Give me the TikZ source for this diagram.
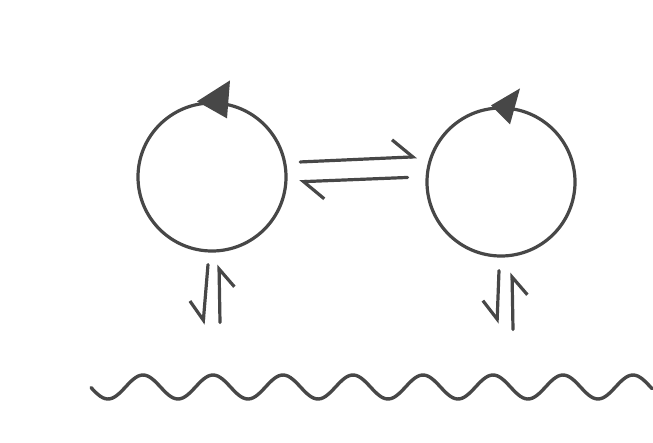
\documentclass[tikz,border=0pt]{standalone}
\usepackage{tikz}
\usetikzlibrary{arrows.meta,calc}
\definecolor{PencilGray}{HTML}{474747}
\tikzset{
    % Ring node style
    ringnode/.style={
        circle,
        draw=PencilGray,
        line width=3.2pt,
        minimum size=148pt,
        inner sep=0pt
    },
    % Harpoon, barb on the left of travel
    harparrow/.style={
        -{Straight Barb[harpoon,length=20pt,width=36pt]},
        line width=3.2pt,
        draw=PencilGray,
        line cap=round
    },
    % Harpoon, barb on the right of travel
    harpswap/.style={
        -{Straight Barb[harpoon,swap,length=18pt,width=30pt]},
        line width=3.2pt,
        draw=PencilGray,
        line cap=round
    },
    % Wavy surface line
    wavyline/.style={
        line width=3.4pt,
        draw=PencilGray,
        line cap=round,
        line join=round
    }
}
\begin{document}
\begin{tikzpicture}[x=1pt,y=-1pt]
    \useasboundingbox (0,0) rectangle (653,442);
    \node[ringnode] (lring) at (212,177) {};
    \node[ringnode] (rring) at (501,182) {};

    % turning arrowheads on the rings
    \fill[PencilGray] ($(lring.north)+(-15,0)$) -- ++(33,-21) -- ++(-3,38) -- cycle;
    \fill[PencilGray] ($(rring.north)+(-10,-1)$) -- ++(29,-17) -- ++(-10,36) -- cycle;

    % equilibrium between the rings
    \draw[harparrow,shorten <=14pt,shorten >=13pt] (lring.11) -- (rring.160);
    \draw[harparrow,shorten <=18pt,shorten >=12pt] (rring.176) -- (lring.-4);

    % exchange with the surface
    \draw[harpswap] ($(lring.south)+(-4,12)$) -- ($(lring.south)+(-9,72)$);
    \draw[harpswap] ($(lring.south)+(8,70)$) -- ($(lring.south)+(7,12)$);
    \draw[harpswap] ($(rring.south)+(-2,13)$) -- ($(rring.south)+(-4,66)$);
    \draw[harpswap] ($(rring.south)+(12,72)$) -- ($(rring.south)+(11,15)$);

    % surface
    \draw[wavyline] plot[domain=91:652,samples=240] (\x,{387+12*cos((\x-108)/70*360)});
\end{tikzpicture}
\end{document}
